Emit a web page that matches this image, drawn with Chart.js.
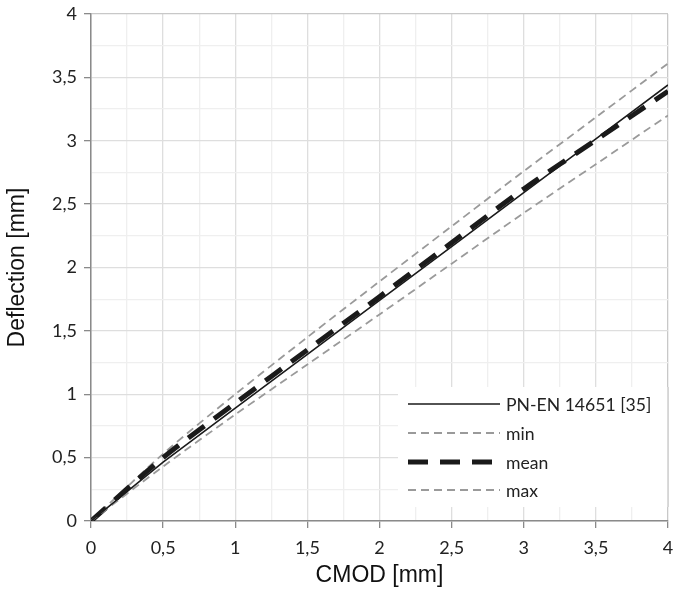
<!DOCTYPE html>
<html>
<head>
<meta charset="utf-8">
<script src="https://cdn.jsdelivr.net/npm/chart.js@4/dist/chart.umd.min.js"></script>
<style>
  html, body { margin: 0; padding: 0; background: #fff; }
  #wrap { width: 675px; height: 593px; position: relative; }
</style>
</head>
<body>
<div id="wrap"><canvas id="c" width="675" height="593"></canvas></div>
<script>
// CMOD [mm] sample positions
const cmod = [0, 0.5, 1, 1.5, 2, 2.5, 3, 3.5, 4];
// Deflection [mm] per series
const pnEn = [0, 0.465, 0.89, 1.315, 1.74, 2.165, 2.59, 3.015, 3.44];
const minSeries = [0, 0.43, 0.84, 1.235, 1.63, 2.03, 2.43, 2.815, 3.20];
const meanSeries = [0, 0.50, 0.93, 1.35, 1.77, 2.195, 2.62, 3.005, 3.39];
const maxSeries = [0, 0.53, 1.00, 1.45, 1.89, 2.325, 2.76, 3.185, 3.61];
const legendLabels = ['PN-EN 14651 [35]', 'min', 'mean', 'max'];
const majorTicks = ['0', '0,5', '1', '1,5', '2', '2,5', '3', '3,5', '4'];

const pts = arr => cmod.map((x, i) => ({x: x, y: arr[i]}));

function tickLabel(v) {
  const idx = Math.round(v * 2);
  if (Math.abs(v * 2 - idx) > 1e-6) return '';
  return majorTicks[idx];
}
function isMajor(v) { return Math.abs(v * 2 - Math.round(v * 2)) < 1e-6; }

const legendPlugin = {
  id: 'insideLegend',
  afterDraw(chart) {
    const ctx = chart.ctx;
    const a = chart.chartArea;
    ctx.save();
    const bx = 398, by = 387, bw = a.right - 398, bh = 120;
    ctx.fillStyle = '#fff';
    ctx.fillRect(bx, by, bw, bh);
    const rows = [404, 433, 462, 490];
    chart.data.datasets.forEach((ds, i) => {
      ctx.beginPath();
      ctx.strokeStyle = ds.borderColor;
      ctx.lineWidth = ds.borderWidth;
      ctx.setLineDash(ds.borderDash || []);
      ctx.moveTo(408, rows[i]);
      ctx.lineTo(500, rows[i]);
      ctx.stroke();
      ctx.setLineDash([]);
      ctx.fillStyle = '#222';
      ctx.font = '17.6px Lato';
      ctx.textBaseline = 'middle';
      ctx.textAlign = 'left';
      ctx.fillText(legendLabels[i], 506, rows[i] + 1);
    });
    // redraw right border over legend box
    ctx.strokeStyle = '#c8c8c8';
    ctx.lineWidth = 1.3;
    ctx.beginPath();
    ctx.moveTo(a.right, by);
    ctx.lineTo(a.right, by + bh);
    ctx.stroke();
    ctx.restore();
  }
};

new Chart(document.getElementById('c'), {
  type: 'line',
  data: {
    datasets: [
      { label: legendLabels[0], data: pts(pnEn), borderColor: '#1a1a1a', borderWidth: 1.6, pointRadius: 0, tension: 0 },
      { label: legendLabels[1], data: pts(minSeries), borderColor: '#9a9a9a', borderWidth: 1.8, borderDash: [8, 5], pointRadius: 0, tension: 0.3 },
      { label: legendLabels[2], data: pts(meanSeries), borderColor: '#1a1a1a', borderWidth: 5, borderDash: [20, 12], pointRadius: 0, tension: 0.3 },
      { label: legendLabels[3], data: pts(maxSeries), borderColor: '#9a9a9a', borderWidth: 1.8, borderDash: [8, 5], pointRadius: 0, tension: 0.3 }
    ]
  },
  options: {
    responsive: false,
    animation: false,
    layout: { padding: { left: 0, right: 0, top: 14, bottom: 0 } },
    plugins: { legend: { display: false }, tooltip: { enabled: false } },
    scales: {
      x: {
        type: 'linear', min: 0, max: 4,
        afterFit: s => { s.height = 72; s.paddingRight = 7; },
        ticks: { stepSize: 0.25, autoSkip: false, maxRotation: 0, color: '#222', font: { family: 'Lato', size: 18 }, padding: 9, callback: v => tickLabel(v) },
        grid: {
          color: c => c.tick && c.tick.value === 4 ? '#c8c8c8' : (isMajor(c.tick ? c.tick.value : 0) ? '#dedede' : '#efefef'),
          lineWidth: 1.3,
          tickLength: 7,
          tickColor: c => isMajor(c.tick ? c.tick.value : 0) ? '#8a8a8a' : 'rgba(0,0,0,0)'
        },
        border: { color: '#8a8a8a', width: 1.5 },
        title: { display: true, text: 'CMOD [mm]', color: '#111', font: { family: 'Liberation Sans', size: 23 }, padding: { top: 7 } }
      },
      y: {
        type: 'linear', min: 0, max: 4,
        afterFit: s => { s.width = 91; s.paddingTop = 0; },
        ticks: { stepSize: 0.25, autoSkip: false, color: '#222', font: { family: 'Lato', size: 18 }, padding: 7, callback: v => tickLabel(v) },
        grid: {
          color: c => c.tick && c.tick.value === 4 ? '#c8c8c8' : (isMajor(c.tick ? c.tick.value : 0) ? '#dedede' : '#efefef'),
          lineWidth: 1.3,
          tickLength: 7,
          tickColor: c => isMajor(c.tick ? c.tick.value : 0) ? '#8a8a8a' : 'rgba(0,0,0,0)'
        },
        border: { color: '#8a8a8a', width: 1.5 },
        title: { display: true, text: 'Deflection [mm]', color: '#111', font: { family: 'Liberation Sans', size: 23 }, padding: { bottom: 2 } }
      }
    }
  },
  plugins: [legendPlugin]
});
</script>
</body>
</html>
